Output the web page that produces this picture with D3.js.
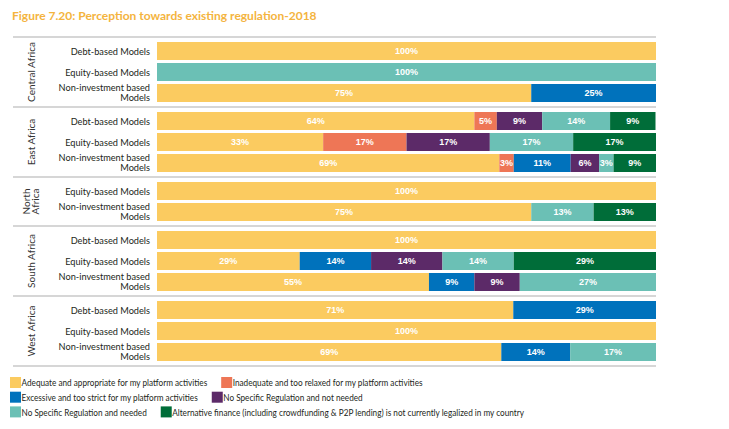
<!DOCTYPE html>
<html><head><meta charset="utf-8">
<script src="https://cdn.jsdelivr.net/npm/d3@7"></script>
<style>
body{margin:0;background:#fff;}
svg{display:block;}
</style></head>
<body><svg id="chart" width="729" height="429"></svg>
<script>
const title = "Figure 7.20: Perception towards existing regulation-2018";
const groups = ["Central Africa", "East Africa", "North Africa", "South Africa", "West Africa"];
const rowGroup = ["Central Africa","Central Africa","Central Africa","East Africa","East Africa","East Africa","North Africa","North Africa","South Africa","South Africa","South Africa","West Africa","West Africa","West Africa"];
const rowModel = ["Debt-based Models","Equity-based Models","Non-investment based Models","Debt-based Models","Equity-based Models","Non-investment based Models","Equity-based Models","Non-investment based Models","Debt-based Models","Equity-based Models","Non-investment based Models","Debt-based Models","Equity-based Models","Non-investment based Models"];
const seriesNames = [
  "Adequate and appropriate for my platform activities",
  "Inadequate and too relaxed for my platform activities",
  "Excessive and too strict for my platform activities",
  "No Specific Regulation and not needed",
  "No Specific Regulation and needed",
  "Alternative finance (including crowdfunding & P2P lending) is not currently legalized in my country"
];
const seriesColors = ["#FBCB60", "#EE7656", "#0072BC", "#5C2A68", "#6BC0B5", "#006D39"];
const adequate   = [100, 0, 75, 63.6, 33.3, 68.6, 100, 75, 100, 28.6, 54.5, 71.4, 100, 69.0];
const inadequate = [0, 0, 0, 4.5, 16.7, 2.9, 0, 0, 0, 0, 0, 0, 0, 0];
const excessive  = [0, 0, 25, 0, 0, 11.4, 0, 0, 0, 14.3, 9.1, 28.6, 0, 13.8];
const notNeeded  = [0, 0, 0, 9.1, 16.7, 5.7, 0, 0, 0, 14.3, 9.1, 0, 0, 0];
const needed     = [0, 100, 0, 13.6, 16.7, 2.9, 0, 12.5, 0, 14.3, 27.3, 0, 0, 17.2];
const notLegal   = [0, 0, 0, 9.1, 16.7, 8.6, 0, 12.5, 0, 28.6, 0, 0, 0, 0];

const seriesValues = [adequate, inadequate, excessive, notNeeded, needed, notLegal];
const rows = rowModel.map((m, i) => {
  const r = {id: i, group: rowGroup[i], model: m};
  seriesNames.forEach((s, k) => r[s] = seriesValues[k][i]);
  return r;
});

const svg = d3.select("#chart");
const FONT = "Lato, 'Open Sans', sans-serif";

svg.append("text").attr("x", 12).attr("y", 20)
  .attr("font-family", FONT).attr("font-weight", "bold").attr("font-size", 12)
  .attr("fill", "#F4B43E").text(title);

const x = d3.scaleLinear().domain([0, 100]).range([157, 656]).clamp(true);
const stack = d3.stack().keys(seriesNames)(rows);

const rowStep = 21, groupPad = 5, top0 = 37;
let cursor = top0;
const yOf = {};
const groupBounds = [];
groups.forEach(g => {
  const gr = rows.filter(r => r.group === g);
  const h = gr.length * rowStep - 3 + 2 * groupPad;
  const band = d3.scaleBand().domain(gr.map(r => r.id))
    .range([cursor + groupPad - 1.5, cursor + groupPad - 1.5 + gr.length * rowStep])
    .paddingInner(3 / 21).paddingOuter(1.5 / 21);
  gr.forEach(r => yOf[r.id] = {y: band(r.id), h: band.bandwidth()});
  groupBounds.push({g, y0: cursor, y1: cursor + h});
  cursor += h;
});

// separators
const seps = [top0].concat(groupBounds.map(b => b.y1));
svg.selectAll("line.sep").data(seps).join("line").attr("class", "sep")
  .attr("x1", 13).attr("x2", 656).attr("y1", d => d).attr("y2", d => d)
  .attr("stroke", "#C8C8C8").attr("stroke-width", 1.5);

// group labels
groupBounds.forEach(b => {
  const lines = b.g === "North Africa" ? ["North", "Africa"] : [b.g];
  const cy = (b.y0 + b.y1) / 2;
  const t = svg.append("text").attr("transform", `translate(31,${cy}) rotate(-90)`)
    .attr("text-anchor", "middle").attr("font-family", FONT).attr("font-size", 10)
    .attr("fill", "#333");
  lines.forEach((l, i) => {
    t.append("tspan").attr("x", 0).attr("dy", i === 0 ? (lines.length === 1 ? 3.5 : -1.5) : 9.5).text(l);
  });
});

// category labels
rows.forEach(r => {
  const cy = yOf[r.id].y + yOf[r.id].h / 2;
  const lines = r.model === "Non-investment based Models" ? ["Non-investment based", "Models"] : [r.model];
  const t = svg.append("text").attr("text-anchor", "end").attr("font-family", FONT)
    .attr("font-size", 9.2).attr("fill", "#231F20");
  lines.forEach((l, i) => {
    t.append("tspan").attr("x", 150).attr("y", lines.length === 1 ? cy + 3.5 : cy - 2 + i * 9.8).text(l);
  });
});

// bars
const layer = svg.selectAll("g.layer").data(stack).join("g").attr("class", "layer")
  .attr("fill", (d, i) => seriesColors[i]);
layer.selectAll("rect").data(d => d.filter(p => p[1] - p[0] > 0)).join("rect")
  .attr("x", p => x(p[0])).attr("width", p => x(p[1]) - x(p[0]))
  .attr("y", p => yOf[p.data.id].y).attr("height", p => yOf[p.data.id].h);
layer.each(function(d) {
  const key = d.key;
  d3.select(this).selectAll("text").data(d.filter(p => p[1] - p[0] > 0)).join("text")
    .attr("x", p => (x(p[0]) + x(p[1])) / 2)
    .attr("y", p => yOf[p.data.id].y + yOf[p.data.id].h / 2 + 3.2)
    .attr("text-anchor", "middle").attr("font-family", "'Liberation Sans', Arial, sans-serif")
    .attr("font-weight", "bold").attr("font-size", 9).attr("fill", "#fff")
    .text(p => Math.round(p.data[key]) + "%");
});

// legend (flowing, 2 items per row)
const legendRows = [[0, 1], [2, 3], [4, 5]];
legendRows.forEach((items, ri) => {
  let lx = 10;
  const ly = 377 + ri * 14.7;
  items.forEach(k => {
    svg.append("rect").attr("x", lx).attr("y", ly).attr("width", 11).attr("height", 11)
      .attr("fill", seriesColors[k]);
    const t = svg.append("text").attr("x", lx + 11.5).attr("y", ly + 9.3)
      .attr("font-family", FONT).attr("font-size", 10).attr("fill", "#231F20")
      .text(seriesNames[k]);
    const w = t.node().getComputedTextLength() * 0.82;
    t.attr("textLength", w).attr("lengthAdjust", "spacingAndGlyphs");
    lx += 11.5 + w + 14;
  });
});
</script></body></html>
